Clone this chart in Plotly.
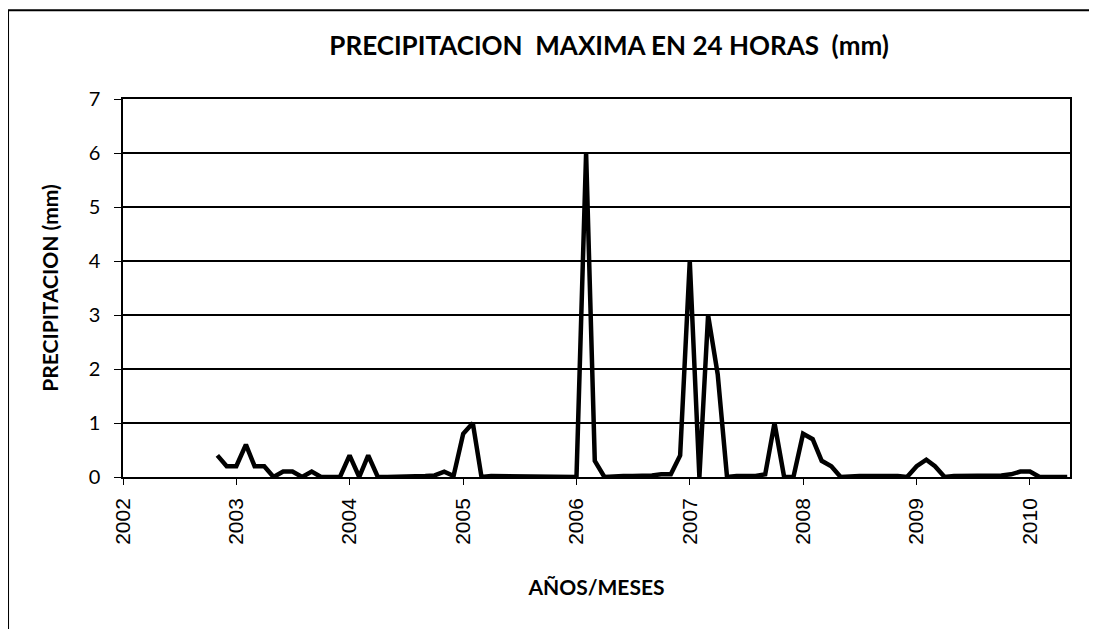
import plotly.graph_objects as go
import pandas as pd

# monthly maximum 24h precipitation (mm), Nov 2002 - May 2010
start_month = "2002-11-01"
vals_2002 = [0.4, 0.2]
vals_2003 = [0.2, 0.6, 0.2, 0.2, 0.0, 0.1, 0.1, 0.0, 0.1, 0.0, 0.0, 0.0]
vals_2004 = [0.4, 0.0, 0.4, 0.0, 0.0, 0.0, 0.0, 0.0, 0.02, 0.03, 0.1, 0.02]
vals_2005 = [0.8, 1.0, 0.0, 0.02, 0.02, 0.02, 0.02, 0.02, 0.02, 0.02, 0.02, 0.02]
vals_2006 = [0.0, 6.0, 0.3, 0.0, 0.02, 0.02, 0.02, 0.02, 0.03, 0.05, 0.05, 0.4]
vals_2007 = [4.0, 0.0, 3.0, 1.9, 0.0, 0.02, 0.02, 0.02, 0.05, 1.0, 0.0, 0.0]
vals_2008 = [0.8, 0.7, 0.3, 0.2, 0.0, 0.02, 0.02, 0.02, 0.03, 0.02, 0.02, 0.0]
vals_2009 = [0.2, 0.32, 0.2, 0.0, 0.02, 0.02, 0.03, 0.03, 0.03, 0.03, 0.05, 0.1]
vals_2010 = [0.1, 0.0, 0.0, 0.0, 0.0]

precip = vals_2002 + vals_2003 + vals_2004 + vals_2005 + vals_2006 + vals_2007 + vals_2008 + vals_2009 + vals_2010
months = pd.date_range(start_month, periods=len(precip), freq="MS")

fig = go.Figure()
fig.add_trace(go.Scatter(x=months, y=precip, mode="lines",
                         line=dict(color="black", width=4.5), showlegend=False))

# page has an 8px body margin, so the figure is sized a bit smaller
fig.update_layout(
    width=1089, height=621,
    margin=dict(l=115, r=27, t=91, b=152),
    paper_bgcolor="white", plot_bgcolor="white",
    title=dict(text="<b>PRECIPITACION  MAXIMA EN 24 HORAS  (mm)</b>",
               x=0.552, xanchor="center", y=0.939, yanchor="middle",
               font=dict(family="Lato", size=26, color="black")),
    xaxis=dict(
        range=["2002-01-01", "2010-05-10"],
        dtick="M12", tick0="2002-01-01", tickformat="%Y", tickangle=-90,
        ticks="outside", ticklen=6, tickcolor="black",
        ticklabelstandoff=5,
        showline=True, linecolor="black", linewidth=1.5, mirror=True,
        showgrid=False, zeroline=False,
        tickfont=dict(family="Liberation Sans", size=21, color="black"),
        title=dict(text="<b>AÑOS/MESES</b>", standoff=36,
                   font=dict(family="Lato", size=21, color="black")),
    ),
    yaxis=dict(
        range=[0, 7], dtick=1,
        ticks="outside", ticklen=7, tickcolor="black",
        ticklabelstandoff=10,
        showline=True, linecolor="black", linewidth=1.5, mirror=True,
        showgrid=True, gridcolor="black", gridwidth=1.5, zeroline=False,
        tickfont=dict(family="Lato", size=20, color="black"),
        title=dict(text="<b>PRECIPITACION (mm)</b>", standoff=24,
                   font=dict(family="Lato", size=21, color="black")),
    ),
)

# outer chart frame
fig.add_shape(type="rect", xref="paper", yref="paper",
              x0=-0.1214, x1=1.023, y0=-0.45, y1=1.235,
              line=dict(color="black", width=2))

fig.write_html("out.html")
